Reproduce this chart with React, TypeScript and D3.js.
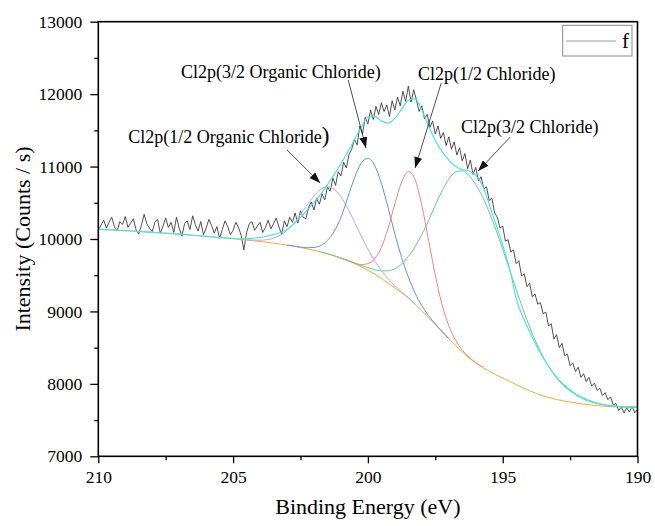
import { useEffect, useRef } from "react";
import * as d3 from "d3";

// raw spectrum, 210 -> 190 eV every 0.1 eV
const RAW_START = 210;
const RAW_STEP = 0.1;
const rawCounts = [
  10120, 10190, 10260, 10150, 10230, 10300, 10170, 10110, 10240, 10200,
  10310, 10160, 10220, 10280, 10130, 10070, 10190, 10340, 10210, 10150,
  10100, 10230, 10270, 10080, 10180, 10290, 10160, 10230, 10090, 10300,
  10150, 10040, 10210, 10250, 10130, 10320, 10200, 10110, 10240, 10060,
  10150, 10270, 10190, 10080, 10170, 10010, 10130, 10250, 10170, 10060,
  10120, 10230, 10160, 10050, 9850, 10090, 10210, 10240, 10120, 10180,
  10230, 10090, 10160, 10260, 10140, 10210, 10290, 10170, 10060, 10250,
  10170, 10300, 10230, 10360, 10220, 10390, 10300, 10280, 10440, 10510,
  10400, 10560, 10480, 10620, 10540, 10720, 10660, 10840, 10740, 10930,
  10870, 11060, 10980, 11170, 11240, 11380, 11300, 11560, 11450, 11680,
  11590, 11780, 11650, 11830, 11720, 11880, 11760, 11850, 11690, 11910,
  11780, 11960, 11840, 12040, 11900, 12110, 11890, 12060, 11920, 11760,
  11840, 11660, 11720, 11540, 11630, 11450, 11560, 11390, 11470, 11290,
  11410, 11240, 11340, 11160, 11260, 11080, 11180, 10970, 11090, 10890,
  10990, 10800, 10860, 10690, 10720, 10530, 10560, 10360, 10300, 10150,
  10180, 9970, 9990, 9820, 9850, 9660, 9700, 9490, 9520, 9340,
  9390, 9200, 9240, 9100, 9120, 8970, 8990, 8800, 8830, 8620,
  8680, 8500, 8560, 8390, 8410, 8250, 8290, 8170, 8230, 8090,
  8140, 8030, 8090, 7970, 8010, 7910, 7940, 7840, 7880, 7780,
  7820, 7710, 7730, 7630, 7680, 7600, 7670, 7610, 7690, 7600,
  7650,
];

// fitted curves, 210 -> 190 eV every 0.25 eV
const FIT_START = 210;
const FIT_STEP = 0.25;
const background = [
  10135, 10130, 10125, 10120, 10115, 10110, 10104, 10098,
  10092, 10086, 10080, 10074, 10067, 10060, 10052, 10044,
  10036, 10028, 10020, 10012, 10004, 9996, 9987, 9977,
  9966, 9955, 9943, 9930, 9916, 9900, 9883, 9864,
  9843, 9820, 9795, 9767, 9736, 9700, 9660, 9615,
  9570, 9515, 9455, 9390, 9325, 9255, 9185, 9098,
  9005, 8910, 8815, 8720, 8625, 8530, 8440, 8360,
  8290, 8230, 8175, 8125, 8080, 8035, 7990, 7945,
  7905, 7868, 7835, 7808, 7785, 7766, 7750, 7734,
  7720, 7709, 7700, 7692, 7686, 7682, 7679, 7677,
  7676,
];
const envelope = [
  10135, 10130, 10125, 10120, 10115, 10110, 10104, 10098,
  10092, 10086, 10080, 10074, 10067, 10060, 10052, 10044,
  10036, 10028, 10020, 10013, 10007, 10004, 10004, 10010,
  10020, 10040, 10062, 10090, 10130, 10205, 10300, 10400,
  10505, 10620, 10750, 10890, 11040, 11200, 11370, 11545,
  11680, 11690, 11630, 11600, 11665, 11790, 11915, 11935,
  11780, 11560, 11360, 11210, 11090, 11005, 10960, 10940,
  10880, 10740, 10480, 10200, 9920, 9600, 9180, 8920,
  8720, 8525, 8360, 8215, 8090, 7995, 7915, 7855,
  7805, 7765, 7735, 7712, 7699, 7690, 7685, 7682,
  7680,
];
// peak heights above the background
const peakOrganic12 = [
  0, 0, 0, 0, 0, 0, 0, 0,
  0, 0, 0, 0, 0, 0, 0, 0,
  0, 0, 0, 0, 0, 0, 0, 8,
  17, 36, 69, 123, 205, 317, 455, 607,
  752, 865, 925, 918, 846, 725, 577, 426,
  292, 186, 110, 61, 31, 15, 6, 0,
  0, 0, 0, 0, 0, 0, 0, 0,
  0, 0, 0, 0, 0, 0, 0, 0,
  0, 0, 0, 0, 0, 0, 0, 0,
  0, 0, 0, 0, 0, 0, 0, 0,
  0,
];
const peakOrganic32 = [
  0, 0, 0, 0, 0, 0, 0, 0,
  0, 0, 0, 0, 0, 0, 0, 0,
  0, 0, 0, 0, 0, 0, 0, 0,
  0, 0, 0, 0, 0, 2, 5, 15,
  40, 90, 185, 340, 560, 870, 1180, 1430,
  1545, 1500, 1313, 1040, 745, 490, 290, 155,
  75, 32, 12, 4, 0, 0, 0, 0,
  0, 0, 0, 0, 0, 0, 0, 0,
  0, 0, 0, 0, 0, 0, 0, 0,
  0, 0, 0, 0, 0, 0, 0, 0,
  0,
];
const peakChloride12 = [
  0, 0, 0, 0, 0, 0, 0, 0,
  0, 0, 0, 0, 0, 0, 0, 0,
  0, 0, 0, 0, 0, 0, 0, 0,
  0, 0, 0, 0, 0, 0, 0, 0,
  0, 0, 0, 0, 0, 4, 10, 30,
  90, 210, 430, 760, 1160, 1530, 1745, 1720,
  1460, 1075, 685, 375, 180, 75, 27, 8,
  2, 0, 0, 0, 0, 0, 0, 0,
  0, 0, 0, 0, 0, 0, 0, 0,
  0, 0, 0, 0, 0, 0, 0, 0,
  0,
];
const peakChloride32 = [
  0, 0, 0, 0, 0, 0, 0, 0,
  0, 0, 0, 0, 0, 0, 0, 0,
  0, 0, 0, 0, 0, 0, 0, 0,
  0, 0, 0, 0, 0, 0, 0, 0,
  0, 0, 1, 2, 3, 5, 10, 19,
  36, 62, 105, 171, 266, 399, 574, 794,
  1055, 1346, 1651, 1945, 2201, 2394, 2502, 2515,
  2462, 2353, 2195, 2001, 1781, 1548, 1313, 1088,
  880, 695, 536, 404, 297, 213, 150, 103,
  69, 45, 29, 18, 11, 7, 4, 2,
  1,
];

const xTicks = [210, 205, 200, 195, 190];
const xMinorTicks = [207.5, 202.5, 197.5, 192.5];
const yTicks = [7000, 8000, 9000, 10000, 11000, 12000, 13000];
const yMinorTicks = [7500, 8500, 9500, 10500, 11500, 12500];

const peaks = [
  { values: peakOrganic12, color: "#c9a0ee" },
  { values: peakOrganic32, color: "#5f90f2" },
  { values: peakChloride12, color: "#ff7d7d" },
  { values: peakChloride32, color: "#6cc990" },
];

// annotations in data coordinates (eV, counts)
const notes = [
  { text: "Cl2p(1/2 Organic Chloride", tail: ")", x: 208.89, y: 11325, from: [203.0, 11229], to: [201.77, 10773] },
  { text: "Cl2p(3/2 Organic Chloride)", tail: "", x: 206.93, y: 12222, from: [200.73, 12195], to: [200.07, 11256] },
  { text: "Cl2p(1/2 Chloride)", tail: "", x: 198.14, y: 12195, from: [197.28, 12153], to: [198.25, 10980] },
  { text: "Cl2p(3/2 Chloride)", tail: "", x: 196.55, y: 11463, from: [194.72, 11408], to: [195.91, 10938] },
];

const FONT = "'Liberation Serif', 'Times New Roman', serif";

export default function App() {
  const svgRef = useRef(null);
  const width = 655;
  const height = 526;

  useEffect(() => {
    const svg = d3.select(svgRef.current);
    svg.selectAll("*").remove();

    const left = 98.3, right = 637.5, top = 21.7, bottom = 456.3;
    const x = d3.scaleLinear().domain([210, 190]).range([left, right]);
    const y = d3.scaleLinear().domain([7000, 13000]).range([bottom, top]);

    const defs = svg.append("defs");
    defs.append("marker")
      .attr("id", "arrow")
      .attr("viewBox", "0 0 11 8")
      .attr("refX", 11)
      .attr("refY", 4)
      .attr("markerWidth", 11)
      .attr("markerHeight", 8)
      .attr("markerUnits", "userSpaceOnUse")
      .attr("orient", "auto")
      .append("path")
      .attr("d", "M0,0 L11,4 L0,8 Z")
      .attr("fill", "#111");

    const rawE = (i) => RAW_START - i * RAW_STEP;
    const fitE = (i) => FIT_START - i * FIT_STEP;

    // raw data
    const rawLine = d3.line()
      .x((d, i) => x(rawE(i)))
      .y((d) => y(d));
    svg.append("path")
      .attr("d", rawLine(rawCounts))
      .attr("fill", "none")
      .attr("stroke", "#3d3d3d")
      .attr("stroke-width", 0.9);

    const fitLine = d3.line()
      .x((d, i) => x(fitE(i)))
      .y((d) => y(d))
      .curve(d3.curveMonotoneX);

    // background
    svg.append("path")
      .attr("d", fitLine(background))
      .attr("fill", "none")
      .attr("stroke", "#e6b23e")
      .attr("stroke-width", 1);

    // component peaks sitting on the background
    peaks.forEach((p) => {
      const pts = p.values.map((v, i) => ({ i, v, on: v > 0 || p.values[i - 1] > 0 || p.values[i + 1] > 0 }));
      const line = d3.line()
        .defined((d) => d.on)
        .x((d) => x(fitE(d.i)))
        .y((d) => y(background[d.i] + d.v))
        .curve(d3.curveMonotoneX);
      svg.append("path")
        .attr("d", line(pts))
        .attr("fill", "none")
        .attr("stroke", p.color)
        .attr("stroke-width", 1);
    });

    // cumulative fit
    svg.append("path")
      .attr("d", fitLine(envelope))
      .attr("fill", "none")
      .attr("stroke", "#45e2e2")
      .attr("stroke-width", 1.1);

    // axes
    const styleAxis = (g) => {
      g.attr("font-family", null);
      g.select(".domain").remove();
      g.selectAll("line").attr("stroke", "#000").attr("stroke-width", 1.3);
      g.selectAll("text")
        .style("font-family", FONT)
        .style("font-size", "17.5px")
        .attr("fill", "#000");
    };

    svg.append("g")
      .attr("transform", `translate(0,${bottom})`)
      .call(d3.axisBottom(x).tickValues(xTicks).tickSize(7).tickPadding(7).tickFormat(d3.format("d")))
      .call(styleAxis);
    svg.append("g")
      .attr("transform", `translate(0,${bottom})`)
      .call(d3.axisBottom(x).tickValues(xMinorTicks).tickSize(4).tickFormat(() => ""))
      .call(styleAxis);
    svg.append("g")
      .attr("transform", `translate(${left},0)`)
      .call(d3.axisLeft(y).tickValues(yTicks).tickSize(8).tickPadding(8).tickFormat(d3.format("d")))
      .call(styleAxis);
    svg.append("g")
      .attr("transform", `translate(${left},0)`)
      .call(d3.axisLeft(y).tickValues(yMinorTicks).tickSize(4).tickFormat(() => ""))
      .call(styleAxis);

    svg.append("rect")
      .attr("x", left)
      .attr("y", top)
      .attr("width", right - left)
      .attr("height", bottom - top)
      .attr("fill", "none")
      .attr("stroke", "#000")
      .attr("stroke-width", 1.6);

    // axis titles
    svg.append("text")
      .attr("x", (left + right) / 2)
      .attr("y", 514)
      .attr("text-anchor", "middle")
      .style("font-family", FONT)
      .style("font-size", "22px")
      .text("Binding Energy (eV)");
    svg.append("text")
      .attr("transform", `translate(30,${(top + bottom) / 2}) rotate(-90)`)
      .attr("text-anchor", "middle")
      .style("font-family", FONT)
      .style("font-size", "22px")
      .text("Intensity (Counts / s)");

    // legend
    const lg = svg.append("g");
    lg.append("rect")
      .attr("x", 562.7).attr("y", 25.3).attr("width", 69.3).attr("height", 30.7)
      .attr("fill", "#fff").attr("stroke", "#8a8a8a").attr("stroke-width", 1);
    lg.append("line")
      .attr("x1", 566).attr("x2", 616).attr("y1", 41).attr("y2", 41)
      .attr("stroke", "#9a9a9a").attr("stroke-width", 1);
    lg.append("text")
      .attr("x", 622).attr("y", 48)
      .style("font-family", FONT).style("font-size", "21px")
      .text("f");

    // annotations
    notes.forEach((n) => {
      svg.append("line")
        .attr("x1", x(n.from[0])).attr("y1", y(n.from[1]))
        .attr("x2", x(n.to[0])).attr("y2", y(n.to[1]))
        .attr("stroke", "#222")
        .attr("stroke-width", 0.8)
        .attr("marker-end", "url(#arrow)");
      const t = svg.append("text")
        .attr("x", x(n.x))
        .attr("y", y(n.y))
        .style("font-family", FONT)
        .style("font-size", "18px")
        .text(n.text);
      if (n.tail) t.append("tspan").style("font-size", "23px").text(n.tail);
    });
  }, []);

  return (
    <svg
      ref={svgRef}
      width={width}
      height={height}
      viewBox={`0 0 ${width} ${height}`}
      style={{ position: "absolute", left: 0, top: 0, background: "#fff", fontFamily: FONT }}
    />
  );
}
